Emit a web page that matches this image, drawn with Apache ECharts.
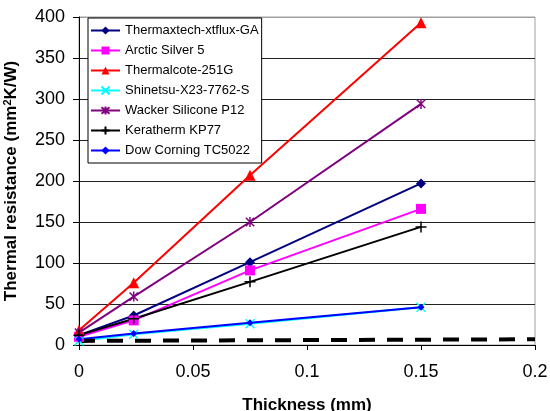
<!DOCTYPE html>
<html><head><meta charset="utf-8">
<script src="https://cdn.jsdelivr.net/npm/echarts@6/dist/echarts.min.js"></script>
<style>html,body{margin:0;padding:0;background:#fff}#c{width:550px;height:411px}</style>
</head><body><div id="c"></div>
<script>
const thickness = [0, 0.024, 0.075, 0.15];
const names = ['Thermaxtech-xtflux-GA','Arctic Silver 5','Thermalcote-251G','Shinetsu-X23-7762-S','Wacker Silicone P12','Keratherm KP77','Dow Corning TC5022'];
const thermaxtech = [12, 36, 101, 197];
const arctic = [10, 30, 91, 166];
const thermalcote = [18, 76, 207, 393];
const shinetsu = [5, 13, 26, 46];
const wacker = [15, 59, 150, 294];
const keratherm = [12, 32, 77, 144];
const dow = [7, 14, 27, 46];
const refX = [0, 0.2];
const refY = [5, 7];
const yTicks = [0,50,100,150,200,250,300,350,400];

const FONT = "'Liberation Sans', Arial, sans-serif";
const X_PATH = 'path://M0,0L10,10M10,0L0,10';
const STAR_PATH = 'path://M0,0L10,10M10,0L0,10M5,-1L5,11';
const PLUS_PATH = 'path://M5,0L5,10M0,5L10,5';

function pts(ys){ return thickness.map((x,i)=>[x, ys[i]]); }
function ser(name, ys, color, symbol, size, stroke){
  return {
    name, type:'line', data: pts(ys), symbol, symbolSize: size, symbolKeepAspect:true,
    lineStyle:{color, width:2}, showSymbol:true, animation:false,
    itemStyle: stroke ? {color:'rgba(0,0,0,0)', borderColor: color, borderWidth:1.5} : {color, borderWidth:0}
  };
}
const series = [
  ser(names[0], thermaxtech, '#000080', 'diamond', 10, false),
  ser(names[1], arctic, '#FF00FF', 'rect', 10, false),
  ser(names[2], thermalcote, '#FF0000', 'triangle', 11, false),
  ser(names[3], shinetsu, '#00FFFF', X_PATH, 9, true),
  ser(names[4], wacker, '#800080', STAR_PATH, 10, true),
  ser(names[5], keratherm, '#000000', PLUS_PATH, 11, true),
  ser(names[6], dow, '#0000FF', 'diamond', 7, false),
  {name:'ref', type:'line', data: refX.map((x,i)=>[x, refY[i]]), symbol:'none', animation:false,
   lineStyle:{color:'#000', width:4, type:[16,12]}}
];
const splitColors = yTicks.map((v,i)=> i===yTicks.length-1 ? '#a0a0a0' : '#222');
const chart = echarts.init(document.getElementById('c'));
chart.setOption({
  backgroundColor:'#fff',
  animation:false,
  grid:{left:79, right:15, top:17, bottom:66, show:true, borderColor:'#a0a0a0', borderWidth:1, backgroundColor:'#fff',
        containLabel:false, outerBoundsMode:'none'},
  legend:{
    data: names, orient:'vertical', left:88, top:18, padding:[6,3,6,2],
    itemWidth:29, itemHeight:10, itemGap:7, borderColor:'#000', borderWidth:1, backgroundColor:'#fff',
    textStyle:{fontFamily:FONT, fontSize:13, color:'#000'}, z:10
  },
  xAxis:{
    type:'value', min:0, max:0.2, interval:0.05,
    name:'Thickness (mm)', nameLocation:'middle', nameGap:52,
    nameTextStyle:{fontFamily:FONT, fontSize:17, fontWeight:'bold', color:'#000'},
    axisLine:{lineStyle:{color:'#000', width:1}},
    axisTick:{show:true, length:5, lineStyle:{color:'#000'}},
    axisLabel:{fontFamily:FONT, fontSize:18, color:'#000', margin:18},
    splitLine:{show:false}
  },
  yAxis:{
    type:'value', min:0, max:400, interval:50,
    name:'Thermal resistance (mm{sup|2}K/W)', nameLocation:'middle', nameGap:58,
    nameTextStyle:{fontFamily:FONT, fontSize:17, fontWeight:'bold', color:'#000',
      rich:{sup:{fontFamily:FONT, fontSize:11, fontWeight:'bold', color:'#000', verticalAlign:'top', padding:[0,0,8,0]}}},
    axisLine:{show:true, lineStyle:{color:'#000', width:1}},
    axisTick:{show:true, length:6, lineStyle:{color:'#000'}},
    axisLabel:{fontFamily:FONT, fontSize:18, color:'#000', margin:14},
    splitLine:{show:true, lineStyle:{color:splitColors, width:1}}
  },
  series
});
</script></body></html>
